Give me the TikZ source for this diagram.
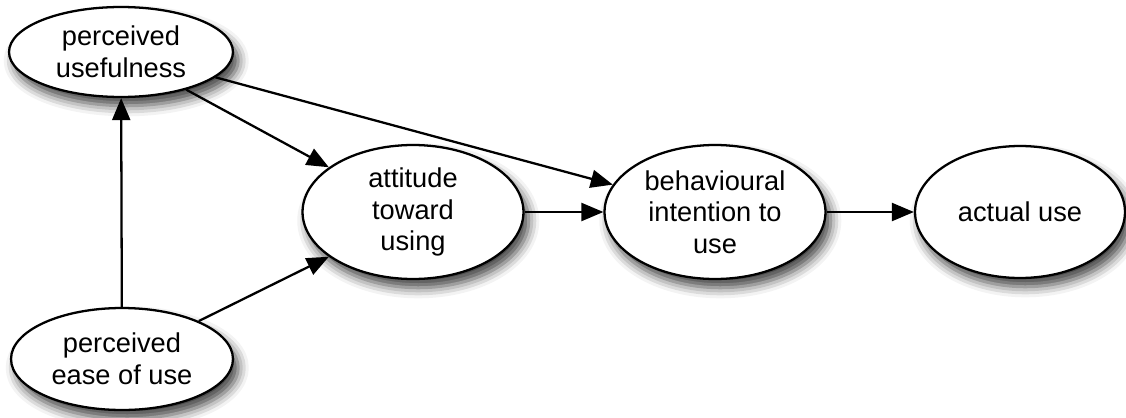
\documentclass[tikz,border=0pt]{standalone}
\usepackage{fontspec}
\setmainfont{Liberation Sans}
\usetikzlibrary{positioning,shapes,arrows.meta,shadows.blur}

\begin{document}
\begin{tikzpicture}[x=0.02cm, y=0.02cm]
		\useasboundingbox (0,0) rectangle (1126,417);
		\begin{scope}[every node/.style={ellipse,draw,fill=white,line width=1.3pt,inner sep=0pt,align=center,
				font=\fontsize{15.5}{18}\selectfont,
				blur shadow={shadow xshift=3pt,shadow yshift=-5pt,shadow blur radius=6pt,shadow opacity=75}}]
			\node[minimum width=4.48cm, minimum height=1.8cm] (pu) at (121,365) {perceived\\usefulness};
			\node[minimum width=4.44cm, minimum height=2.04cm] (peou) at (122,58) {perceived\\ease of use};
			\node[minimum width=4.42cm, minimum height=2.68cm] (att) at (413,205) {attitude\\toward\\using};
			\node[minimum width=4.42cm, minimum height=2.68cm] (bi) at (715,205) {behavioural\\intention to\\use};
			\node[minimum width=4.2cm, minimum height=2.64cm] (use) at (1020,205) {actual use};
		\end{scope}
		\begin{scope}[every path/.style={line width=1.3pt,-{Triangle[length=0.44cm,width=0.36cm]}}]
			\path (peou)
			edge (pu)
			edge (att.208);
			\path (pu.-30)
			edge (att.152);
			\path (pu.-15)
			edge (bi.165);
			\path (att)
			edge (bi);
			\path (bi)
			edge (use);
		\end{scope}
	\end{tikzpicture}
\end{document}
